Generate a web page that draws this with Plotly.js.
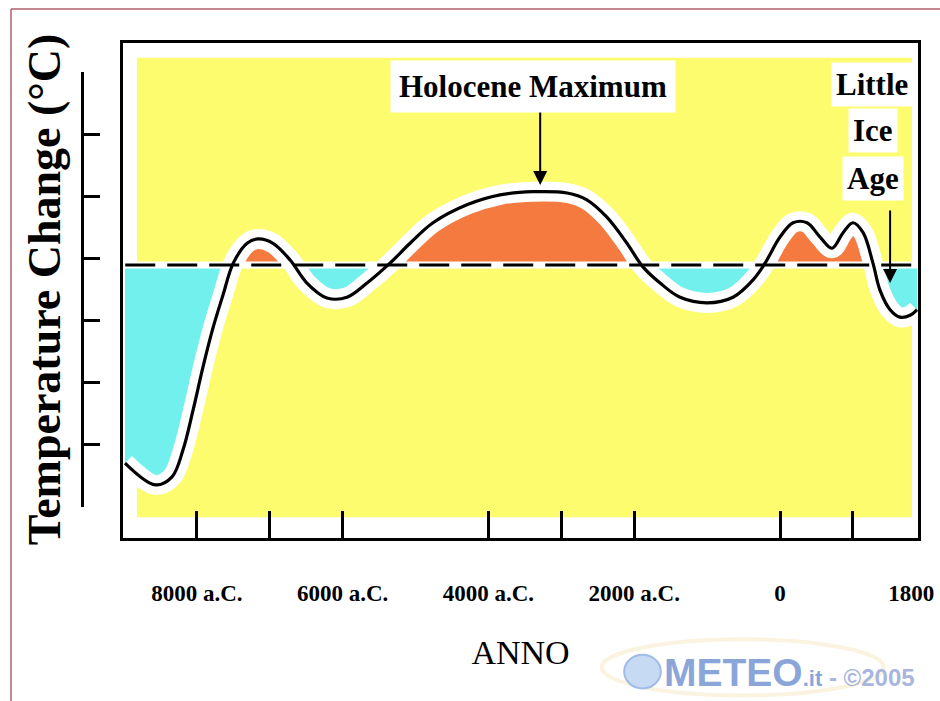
<!DOCTYPE html>
<html>
<head>
<meta charset="utf-8">
<script src="https://cdn.plot.ly/plotly-3.0.1.min.js"></script>
<style>html,body{margin:0;padding:0;background:#fff;}#chart{width:940px;height:701px;}</style>
</head>
<body>
<div id="chart"></div>
<script>
// ---- data (years: negative = a.C.) ----
const years = [-8985,-8570,-8340,-8190,-8050,-7915,-7780,-7640,-7500,
  -7310,-7160,-6955,-6720,-6490,-6215,-5940,-5665,-5350,-5075,
  -4760,-4295,-3840,-3390,-2920,-2650,-2375,-2100,-1880,-1645,
  -1370,-1000,-645,-370,-205,0,180,370,550,715,
  865,1000,1140,1275,1370,1510,1645,1785,1880];
const tempChange = [-3.19,-3.54,-3.41,-2.98,-2.33,-1.64,-1.02,-0.48,0.03,
  0.35,0.42,0.35,0.08,-0.29,-0.53,-0.52,-0.29,0.03,0.35,
  0.68,0.97,1.13,1.18,1.16,1.05,0.77,0.35,-0.03,-0.29,
  -0.52,-0.61,-0.52,-0.24,0.03,0.45,0.68,0.68,0.45,0.27,
  0.52,0.68,0.52,0.03,-0.40,-0.72,-0.84,-0.81,-0.72];
const baseline = 0;
const labelYears = [-8000,-6000,-4000,-2000,0,1800];
const labelText = ['8000 a.C.','6000 a.C.','4000 a.C.','2000 a.C.','0','1800'];
const tickYears = [-8000,-7000,-6000,-4000,-3000,-2000,0,1000];
const scaleTicks = [-4,-3,-2,-1,0,1,2,3];
const holoceneMax = {year:-3290, value:1.29};
const littleIceAge = {year:1510, value:-0.29};

const xRange = [-9012, 1893];
const warm = tempChange.map(v => Math.max(v, baseline));
const cold = tempChange.map(v => Math.min(v, baseline));

const serif = 'Liberation Serif, Times New Roman, serif';
const YELLOW = '#fdfb6e', ORANGE = '#f47a40', CYAN = '#72f0ee';

const traces = [
  {x: years, y: cold, type:'scatter', mode:'lines', fill:'tozeroy', fillcolor:CYAN,
   line:{width:0, color:CYAN}, hoverinfo:'skip', showlegend:false},
  {x: years, y: warm, type:'scatter', mode:'lines', fill:'tozeroy', fillcolor:ORANGE,
   line:{width:0, color:ORANGE}, hoverinfo:'skip', showlegend:false},
  {x: xRange, y: [baseline, baseline], type:'scatter', mode:'lines',
   line:{color:'#ffffff', width:7}, hoverinfo:'skip', showlegend:false},
  {x: years, y: tempChange, type:'scatter', mode:'lines',
   line:{color:'#ffffff', width:20, shape:'spline'}, hoverinfo:'skip', showlegend:false},
  {x: [xRange[0]+30, xRange[1]], y: [baseline, baseline], type:'scatter', mode:'lines',
   line:{color:'#000', width:3, dash:'30px,12px'}, hoverinfo:'skip', showlegend:false},
  {x: years, y: tempChange, type:'scatter', mode:'lines', name:'Temperature Change',
   line:{color:'#000', width:3.2, shape:'spline'}, showlegend:false},
  {x:[null], y:[null], xaxis:'x2', yaxis:'y', type:'scatter', mode:'lines', hoverinfo:'skip', showlegend:false},
  {x:[null], y:[null], xaxis:'x', yaxis:'y2', type:'scatter', mode:'lines', hoverinfo:'skip', showlegend:false}
];

const annFont = {family: serif, size: 31, color:'#000', weight:'bold'};
const layout = {
  width: 940, height: 701,
  margin: {l:0, r:0, t:0, b:0},
  paper_bgcolor:'#ffffff', plot_bgcolor:'rgba(0,0,0,0)',
  showlegend:false,
  xaxis: {domain:[0.1309, 0.9766], range:xRange, anchor:'y',
    showline:true, mirror:true, linewidth:3, linecolor:'#000',
    showgrid:false, zeroline:false, ticks:'',
    tickvals: labelYears, ticktext: labelText, ticklabelstandoff: 32,
    tickfont:{family:serif, size:23, color:'#000', weight:'bold'},
    title:{text:'ANNO', font:{family:serif, size:34, color:'#000'}, standoff:36},
    automargin:false, fixedrange:true},
  xaxis2: {domain:[0.1309, 0.9766], range:xRange, overlaying:'x', anchor:'y', side:'bottom',
    showline:false, showgrid:false, zeroline:false, showticklabels:false,
    ticks:'inside', ticklen:27, tickwidth:3, tickcolor:'#000', tickvals: tickYears, fixedrange:true},
  yaxis: {domain:[0.2325, 0.9387], range:[-4.396, 3.575],
    showline:true, mirror:true, linewidth:3, linecolor:'#000',
    showgrid:false, zeroline:false, ticks:'', showticklabels:false, automargin:false, fixedrange:true},
  yaxis2: {domain:[0.2767, 0.8973], range:[-4, 3], anchor:'free', position:0.0872,
    tickvals: scaleTicks, ticks:'inside', ticklen:16, tickwidth:3, tickcolor:'#000',
    showline:true, linewidth:3, linecolor:'#000', showticklabels:false,
    showgrid:false, zeroline:false, automargin:false, fixedrange:true,
    title:{text:'Temperature Change (°C)', font:{family:serif, size:46, color:'#000', weight:'bold'}, standoff:4}},
  shapes: [
    {type:'rect', xref:'x domain', yref:'y domain', x0:0.0176, x1:0.9925, y0:0.042, y1:0.970,
     fillcolor:YELLOW, line:{width:0}, layer:'below'},
    {type:'line', xref:'paper', yref:'paper', x0:0.0117, x1:1, y0:0.987, y1:0.987,
     line:{color:'#b0606c', width:1.5}},
    {type:'line', xref:'paper', yref:'paper', x0:0.0117, x1:0.0117, y0:0, y1:0.987,
     line:{color:'#b0606c', width:1.5}},
    {type:'circle', xref:'paper', yref:'paper', x0:0.640, x1:0.94, y0:0.008, y1:0.088,
     line:{color:'rgba(240,215,150,0.3)', width:4}, fillcolor:'rgba(0,0,0,0)'},
    {type:'circle', xref:'paper', yref:'paper', x0:0.664, x1:0.703, y0:0.018, y1:0.066,
     line:{color:'#9fbbe6', width:2}, fillcolor:'#c6daf4'}
  ],
  annotations: [
    {x: holoceneMax.year, y: holoceneMax.value, xref:'x', yref:'y', text:'',
     showarrow:true, arrowhead:2, arrowsize:1.4, arrowwidth:2, arrowcolor:'#000', ax:0, ay:-76},
    {x: -3390, y: 2.88, xref:'x', yref:'y', text:'Holocene Maximum', showarrow:false,
     font: annFont, bgcolor:'#ffffff', borderpad:8},
    {x: littleIceAge.year, y: littleIceAge.value, xref:'x', yref:'y', text:'',
     showarrow:true, arrowhead:2, arrowsize:1.4, arrowwidth:2, arrowcolor:'#000', ax:0, ay:-74},
    {x: 1260, y: 2.90, xref:'x', yref:'y', text:'Little', showarrow:false, font: annFont, bgcolor:'#ffffff', borderpad:4},
    {x: 1280, y: 2.16, xref:'x', yref:'y', text:'Ice', showarrow:false, font: annFont, bgcolor:'#ffffff', borderpad:4},
    {x: 1280, y: 1.40, xref:'x', yref:'y', text:'Age', showarrow:false, font: annFont, bgcolor:'#ffffff', borderpad:4},
    {x: 0.975, y: 0.041, xref:'paper', yref:'paper', xanchor:'right', yanchor:'middle', showarrow:false,
     text:'<span style="font-size:39px;font-weight:bold;color:#8aa6d8">METEO</span><span style="font-size:22px;font-weight:bold;color:#8aa6d8">.it</span><span style="font-size:24px;font-weight:bold;color:#a8b6de"> - ©2005</span>',
     font:{family:'Liberation Sans, Arial, sans-serif', size:22, color:'#a8b6de'}}
  ]
};

Plotly.newPlot('chart', traces, layout, {displayModeBar:false, staticPlot:true});
</script>
</body>
</html>
